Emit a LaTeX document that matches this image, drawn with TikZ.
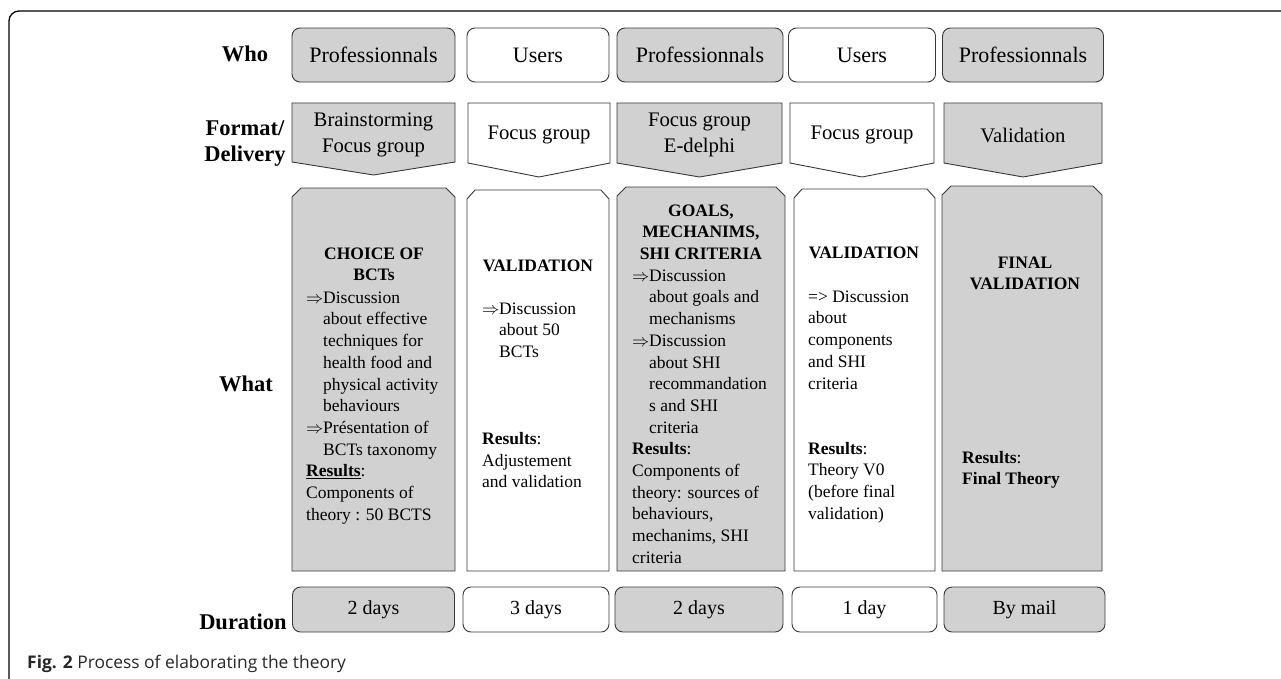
\documentclass[tikz,border=0pt]{standalone}
\usepackage{fontspec}
\setmainfont{Liberation Serif}
\newfontfamily\capfont{Open Sans}
\definecolor{boxgray}{RGB}{208,209,208}
\definecolor{edge}{RGB}{55,55,55}
\newcommand{\arr}{\makebox[17pt][l]{$\Rightarrow$}}
\newcommand{\ind}{\hspace*{17pt}}
\newcommand{\fl}{\rule{0pt}{13pt}}
\begin{document}
\begin{tikzpicture}[x=1pt,y=-1pt,
  lbl/.style={font=\bfseries\fontsize{22.5}{26}\selectfont, align=center},
  whobox/.style={draw=edge, line width=0.9pt, rounded corners=8pt, inner sep=0pt,
     minimum height=54pt, font=\fontsize{22}{26}\selectfont},
  durbox/.style={draw=edge, line width=0.9pt, rounded corners=8pt, inner sep=0pt,
     minimum height=45pt, font=\fontsize{20}{24}\selectfont},
  shp/.style={draw=edge, line width=0.9pt},
  fmttext/.style={font=\fontsize{20.7}{26}\selectfont, align=center, inner sep=0pt},
  head/.style={font=\bfseries\fontsize{17.5}{21.7}\selectfont, align=center, inner sep=0pt, anchor=north},
  body/.style={font=\fontsize{17.5}{21.7}\selectfont, align=left, inner sep=0pt, anchor=north west},
  g/.style={fill=boxgray}, wh/.style={fill=white}
]
\useasboundingbox (0,0) rectangle (1281,678);
\clip (0,0) rectangle (1281,678);
% frame
\draw[line width=1.3pt, rounded corners=10pt] (9,700) -- (9,11) -- (1300,11);

% row labels
\node[lbl] (lwho) at (245,54) {Who};
\node[lbl] (lfmt) at (245,144) {Format/\\Delivery};
\node[lbl] (lwhat) at (246,384) {What};
\node[lbl] (ldur) at (243,622) {Duration};

% Who row
\node[whobox,g,minimum width=163pt] (w1) at (373.5,55) {Professionnals};
\node[whobox,wh,minimum width=142pt] (w2) at (538,55) {Users};
\node[whobox,g,minimum width=166pt] (w3) at (700,55) {Professionnals};
\node[whobox,wh,minimum width=147pt] (w4) at (862,55) {Users};
\node[whobox,g,minimum width=161pt] (w5) at (1023,55) {Professionnals};

% Format row
\draw[shp,g] (292,103) -- (455,103) -- (455,162) -- (373.5,175) -- (292,162) -- cycle;
\draw[shp,wh] (468,103) -- (610,103) -- (610,163) -- (539,177) -- (468,163) -- cycle;
\draw[shp,g] (617,103) -- (782,103) -- (782,163) -- (699.5,177) -- (617,163) -- cycle;
\draw[shp,wh] (790,103) -- (934,103) -- (934,163) -- (862,177) -- (790,163) -- cycle;
\draw[shp,g] (944,103) -- (1102,103) -- (1102,163) -- (1023,177) -- (944,163) -- cycle;
\node[fmttext] (f1) at (373.5,135) {Brainstorming\\Focus group};
\node[fmttext] (f2) at (539,135) {Focus group};
\node[fmttext] (f3) at (699.5,135) {Focus group\\E-delphi};
\node[fmttext] (f4) at (862,135) {Focus group};
\node[fmttext] (f5) at (1023,135) {Validation};

% What row
\draw[shp,g] (292,571) -- (292,197) -- (301,188) -- (446,188) -- (455,197) -- (455,571) -- cycle;
\draw[shp,wh] (467,571) -- (467,199) -- (475,190) -- (601,190) -- (609,199) -- (609,571) -- cycle;
\draw[shp,g] (617,571) -- (617,196) -- (626,187) -- (776,187) -- (785,196) -- (785,571) -- cycle;
\draw[shp,wh] (794,571) -- (794,198) -- (802,189) -- (927,189) -- (935,198) -- (935,571) -- cycle;
\draw[shp,g] (942,571) -- (942,195) -- (951,186) -- (1093,186) -- (1102,195) -- (1102,571) -- cycle;

% column 1
\node[head] (h1) at (374,246) {\fl CHOICE OF\\BCTs};
\node[body] (b1) at (306,290) {\fl\arr Discussion\\
\ind about effective\\
\ind techniques for\\
\ind health food and\\
\ind physical activity\\
\ind behaviours\\
\arr Présentation of\\
\ind BCTs taxonomy\\
\textbf{\underline{Results}}:\\
Components of\\
theory : 50 BCTS};

% column 2
\node[head] (h2) at (538,258) {\fl VALIDATION};
\node[body] (b2) at (482,301) {\fl\arr Discussion\\
\ind about 50\\
\ind BCTs\\[65.1pt]
\textbf{Results}:\\
Adjustement\\
and validation};

% column 3
\node[head] (h3) at (701,203) {\fl GOALS,\\MECHANIMS,\\SHI CRITERIA};
\node[body] (b3) at (632,268) {\fl\arr Discussion\\
\ind about goals and\\
\ind mechanisms\\
\arr Discussion\\
\ind about SHI\\
\ind recommandation\\
\ind s and SHI\\
\ind criteria\\
\textbf{Results}:\\
Components of\\
theory: sources of\\
behaviours,\\
mechanims, SHI\\
criteria};

% column 4
\node[head] (h4) at (864,245) {\fl VALIDATION};
\node[body] (b4) at (808,289) {\fl => Discussion\\
about\\
components\\
and SHI\\
criteria\\[43.4pt]
\textbf{Results}:\\
Theory V0\\
(before final\\
validation)};

% column 5
\node[head] (h5) at (1025,255) {\fl FINAL\\VALIDATION};
\node[body] (b5) at (962,450) {\fl\textbf{Results}:\\
\textbf{Final Theory}};

% Duration row
\node[durbox,g,minimum width=162pt] (d1) at (373.5,609.5) {2 days};
\node[durbox,wh,minimum width=146pt] (d2) at (536,609.5) {3 days};
\node[durbox,g,minimum width=168pt] (d3) at (699,609.5) {2 days};
\node[durbox,wh,minimum width=145pt] (d4) at (864.5,609.5) {1 day};
\node[durbox,g,minimum width=161pt] (d5) at (1024.5,609.5) {By mail};

% caption
\node[anchor=west, inner sep=0pt, font=\capfont\fontsize{17.4}{20}\selectfont, text=black!85] (cap) at (27,664) {\textbf{Fig. 2} Process of elaborating the theory};
\end{tikzpicture}
\end{document}
